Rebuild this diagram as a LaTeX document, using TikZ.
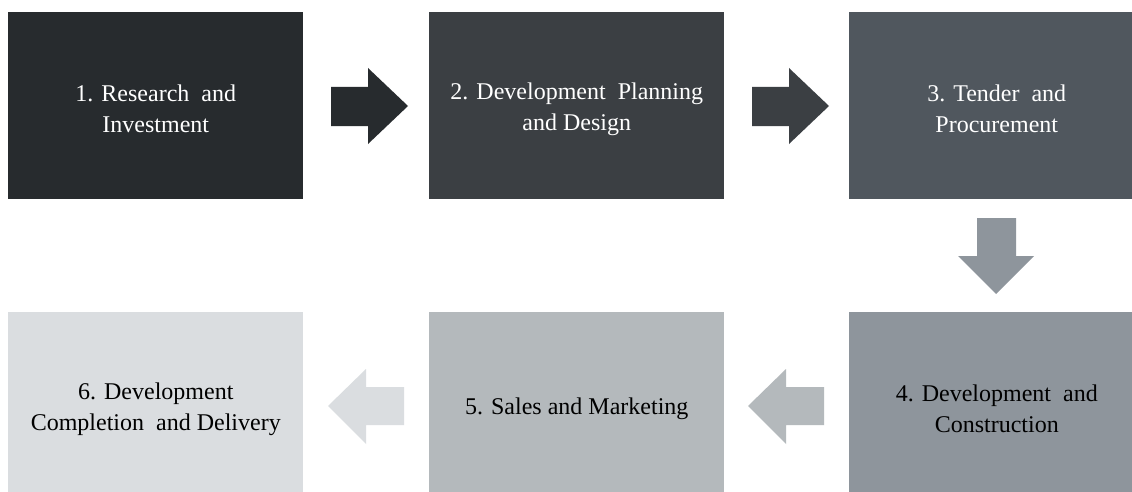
\documentclass[tikz,border=0pt]{standalone}
\usepackage{fontspec}
\setmainfont{Liberation Serif}
\definecolor{cA}{HTML}{272B2E}
\definecolor{cB}{HTML}{3B3F43}
\definecolor{cC}{HTML}{50575E}
\definecolor{cD}{HTML}{8E959C}
\definecolor{cE}{HTML}{B4B9BC}
\definecolor{cF}{HTML}{DADDE0}
\begin{document}
\begin{tikzpicture}[x=0.75pt,y=-0.75pt,
  stagebox/.style={anchor=north west,minimum width=221.25pt,minimum height=140.25pt,
    inner sep=0pt},
  stagetext/.style={inner sep=0pt,align=center,font=\fontsize{18}{23.25}\selectfont},
]
\clip (0,0) rectangle (1132,492);
\fill[white] (0,0) rectangle (1132,492);
\node[stagebox,fill=cA] (s1) at (8,12) {};
\node[stagebox,fill=cB] (s2) at (429,12) {};
\node[stagebox,fill=cC] (s3) at (849,12) {};
\node[stagebox,fill=cD] (s4) at (849,312) {};
\node[stagebox,fill=cE] (s5) at (429,312) {};
\node[stagebox,fill=cF] (s6) at (8,312) {};
\node[stagetext,text=white] (t1) at ([yshift=-2.25pt]s1.center) {1. Research\ \ and\\Investment};
\node[stagetext,text=white] (t2) at ([yshift=-2.25pt]s2.center) {2. Development\ \ Planning\\and Design};
\node[stagetext,text=white] (t3) at ([yshift=-2.25pt]s3.center) {3. Tender\ \ and\\Procurement};
\node[stagetext,text=black] (t4) at ([yshift=-2.25pt]s4.center) {4. Development\ \ and\\Construction};
\node[stagetext,text=black] (t5) at ([yshift=-2.25pt]s5.center) {5. Sales and Marketing};
\node[stagetext,text=black] (t6) at ([yshift=-2.25pt]s6.center) {6. Development\\Completion\ \ and Delivery};
% right arrows
\fill[cA] (331,87)--(368,87)--(368,68)--(408,106)--(368,144)--(368,126)--(331,126)--cycle;
\fill[cB] (752,87)--(789,87)--(789,68)--(829,106)--(789,144)--(789,126)--(752,126)--cycle;
% down arrow
\fill[cD] (977,218)--(1016,218)--(1016,256)--(1034,256)--(996,294)--(958,256)--(977,256)--cycle;
% left arrows
\fill[cE] (748,406)--(786,369)--(786,387)--(824,387)--(824,425)--(786,425)--(786,444)--cycle;
\fill[cF] (328,406)--(366,369)--(366,387)--(404,387)--(404,425)--(366,425)--(366,444)--cycle;
\end{tikzpicture}
\end{document}
